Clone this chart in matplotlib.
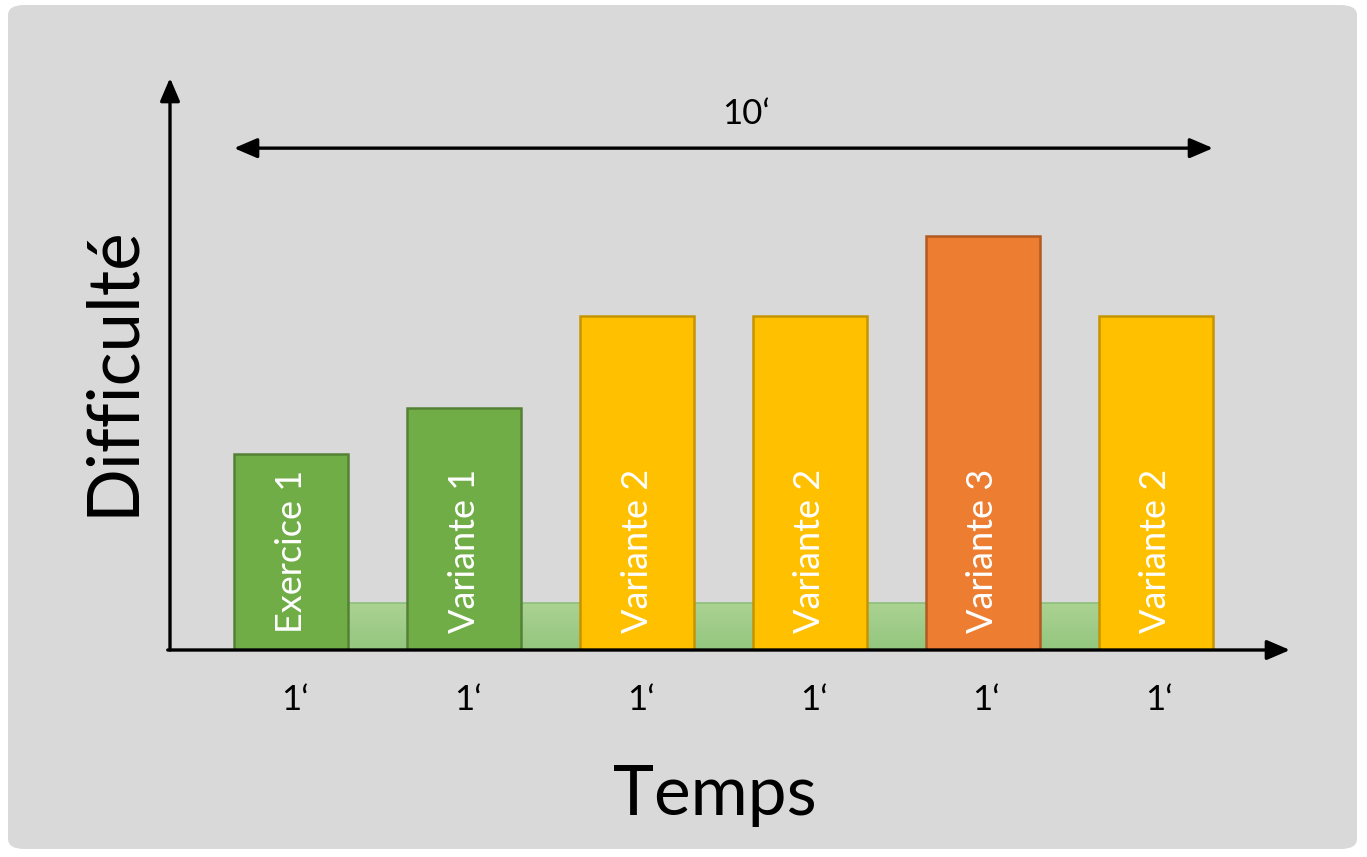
import numpy as np
import matplotlib
matplotlib.use("Agg")
import matplotlib.pyplot as plt
from matplotlib.patches import FancyBboxPatch

plt.rcParams['font.family'] = ['Lato', 'DejaVu Sans']

# données
labels = ["Exercice 1", "Variante 1", "Variante 2", "Variante 2", "Variante 3", "Variante 2"]
difficulte = [2.35, 2.9, 4.0, 4.0, 4.96, 4.0]
durees = ["1‘", "1‘", "1‘", "1‘", "1‘", "1‘"]
couleurs = ["#70AD47", "#70AD47", "#FFC000", "#FFC000", "#ED7D31", "#FFC000"]
bords = ["#548235", "#548235", "#C59400", "#C59400", "#B35A22", "#C59400"]
recup = 0.56          # hauteur des pauses
total = "10‘"

W, H = 1367, 857
fig = plt.figure(figsize=(W / 100, H / 100), dpi=100)
fig.patch.set_facecolor("white")

# fond gris arrondi
fond = FancyBboxPatch((8 / W, 8 / H), 1349 / W, 844 / H,
                      boxstyle="round,pad=0,rounding_size=0.012",
                      transform=fig.transFigure, facecolor="#D9D9D9",
                      edgecolor="none", zorder=-10)
fig.patches.append(fond)

# axes calés sur les flèches (x: 170 -> 1290 px, y: 650 -> 78 px)
ax = fig.add_axes([170 / W, (H - 650) / H, 1120 / W, 572 / H])
ax.set_axis_off()
ax.set_zorder(1)

largeur = 0.66
x = np.arange(len(labels))

# pauses entre les exercices (dégradé vert, plus clair en haut)
grad = np.linspace(0, 1, 50).reshape(-1, 1)
cmap = matplotlib.colors.LinearSegmentedColormap.from_list("g", ["#ABD291", "#93C67F"])
for i in range(len(labels) - 1):
    x0 = x[i] + largeur / 2
    x1 = x[i + 1] - largeur / 2
    ax.imshow(grad, extent=(x0, x1, 0, recup), origin="upper", cmap=cmap,
              aspect="auto", zorder=1)
    ax.plot([x0, x1], [recup, recup], color="#8CC07A", lw=1.2, zorder=1.5)

# barres
ax.bar(x, difficulte, width=largeur, color=couleurs, edgecolor=bords, linewidth=1.8, zorder=2)
ax.set_xlim(-0.70, 5.775)
ax.set_ylim(0, 6.85)

for xi, lab in zip(x, labels):
    ax.text(xi, 0.2, lab, rotation=90, ha="center", va="bottom",
            color="white", fontsize=26, zorder=3)

for xi, d in zip(x, durees):
    ax.text(xi + 0.02, -0.6, d, ha="center", va="center", fontsize=25, clip_on=False)

# axes fléchés
fleche = dict(arrowstyle="-|>,head_length=14,head_width=6", color="black",
              lw=2.4, shrinkA=0, shrinkB=0, mutation_scale=1)
ax.annotate("", xy=(0, 1), xytext=(0, 0), xycoords="axes fraction",
            arrowprops=fleche, annotation_clip=False)
ax.annotate("", xy=(1, 0), xytext=(-0.002, 0), xycoords="axes fraction",
            arrowprops=fleche, annotation_clip=False)

# durée totale
double = dict(arrowstyle="<|-|>,head_length=14,head_width=6", color="black",
              lw=2.4, shrinkA=0, shrinkB=0, mutation_scale=1)
ax.annotate("", xy=(x[-1] + largeur / 2, 6.01), xytext=(x[0] - largeur / 2, 6.01),
            arrowprops=double, annotation_clip=False)
ax.text(2.63, 6.3, total, ha="center", va="baseline", fontsize=25)

fig.text(715 / W, 1 - 815 / H, "Temps", ha="center", va="baseline", fontsize=50)
fig.text(112 / W, 1 - 371 / H, "Difficulté", rotation=90, ha="center", va="center", fontsize=51)

fig.savefig("out.png", dpi=100)
